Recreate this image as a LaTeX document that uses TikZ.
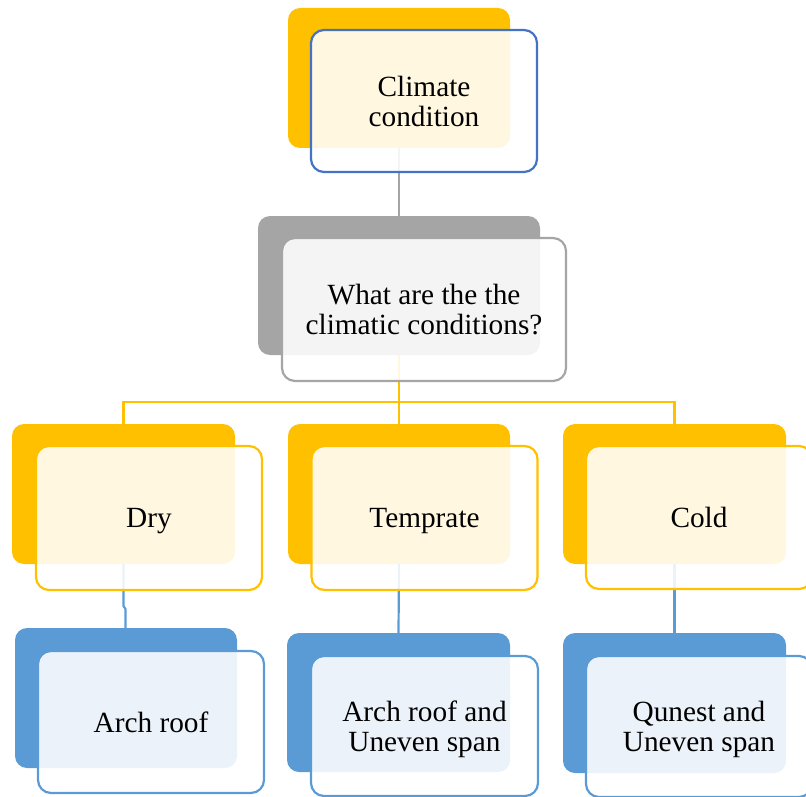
\documentclass[tikz,border=0pt]{standalone}
\usepackage{fontspec}
\setmainfont{Liberation Serif}
\definecolor{gold}{HTML}{FFC000}
\definecolor{slate}{HTML}{A5A5A5}
\definecolor{sky}{HTML}{5B9BD5}
\definecolor{navy}{HTML}{4472C4}
\begin{document}
\begin{tikzpicture}[x=1pt,y=-1pt,
  backbox/.style={rectangle,rounded corners=12pt,inner sep=0pt,outer sep=0pt,
    minimum width=222pt,minimum height=140pt,fill=#1},
  frontbox/.style={rectangle,rounded corners=13pt,inner sep=0pt,outer sep=0pt,
    minimum width=226pt,minimum height=142pt,draw=#1,line width=2.2pt,
    fill=white,fill opacity=0.88,text opacity=1,align=center,text depth=0pt,
    font=\fontsize{29.3}{30}\selectfont},
  link/.style={draw=#1,line width=2.2pt}]
\useasboundingbox (0,0) rectangle (806,797);
\clip (0,0) rectangle (806,797);

% coloured back plates
\node[backbox=gold] (topB) at (399,78) {};
\node[backbox=slate,minimum width=282pt,minimum height=139pt] (qB) at (399,285.5) {};
\node[backbox=gold,minimum width=223pt] (dryB) at (123.5,494) {};
\node[backbox=gold] (tempB) at (399,494) {};
\node[backbox=gold,minimum width=223pt] (coldB) at (674.5,494) {};
\node[backbox=sky] (archB) at (126,698) {};
\node[backbox=sky,minimum width=223pt,minimum height=139pt] (spanB) at (398.5,702.5) {};
\node[backbox=sky,minimum width=223pt] (qunB) at (674.5,703) {};

% connectors between the plates
\draw[link=slate] (topB.south) -- (qB.north);
\coordinate (bus) at (399,402);
\draw[link=gold] (qB.south) -- (bus);
\draw[link=gold] (bus) -| (dryB.north);
\draw[link=gold] (bus) -| (coldB.north);
\draw[link=gold] (bus) -- (tempB.north);
\draw[link=sky] (dryB.south) -- ++(0,42) -- ++(2,3) |- (archB.north);
\draw[link=sky] (tempB.south) -- (spanB.north);
\draw[link=sky] (coldB.south) -- (qunB.north);

% translucent front cards with the labels
\node[frontbox=navy] (topF) at (424,101) {Climate\\condition};
\node[frontbox=slate,minimum width=284pt,minimum height=143pt] (qF) at (424,309.5)
  {What are the the\\climatic conditions?};
\node[frontbox=gold,minimum height=144pt] (dryF) at (149,518) {Dry};
\node[frontbox=gold,minimum height=144pt] (tempF) at (424.5,518) {Temprate};
\node[frontbox=gold,minimum height=143pt] (coldF) at (699,517.5) {Cold};
\node[frontbox=sky] (archF) at (151,722) {Arch roof};
\node[frontbox=sky,minimum width=227pt,minimum height=140pt] (spanF) at (424.5,726)
  {Arch roof and\\Uneven span};
\node[frontbox=sky,minimum height=141pt] (qunF) at (699,726.5) {Qunest and\\Uneven span};
\end{tikzpicture}
\end{document}
